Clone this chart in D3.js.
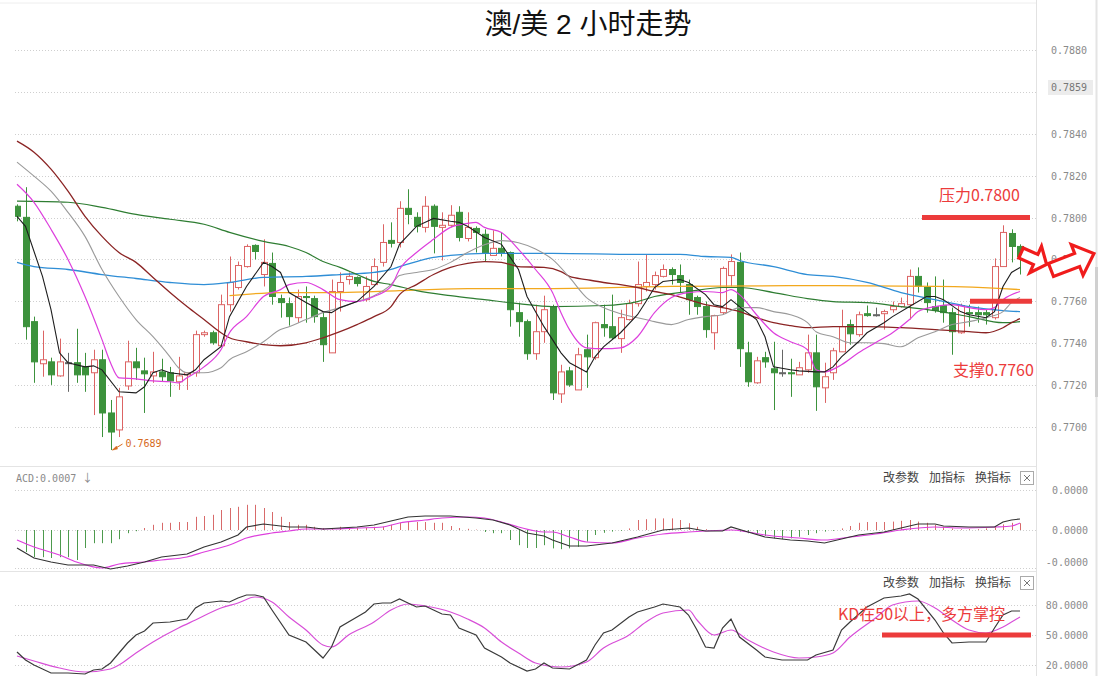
<!DOCTYPE html>
<html><head><meta charset="utf-8">
<script src="https://cdn.jsdelivr.net/npm/d3@7/dist/d3.min.js"></script>
<style>body{margin:0;background:#fff;}svg{display:block;}</style>
</head><body><svg id="c" width="1110" height="676"></svg>
<script>
const chartTitle = "澳/美 2 小时走势";
// candles (2-hour), index 0..118
const candleOpen = [0.78054,0.78001,0.77503,0.77302,0.77311,0.77244,0.77307,0.77307,0.77287,0.77259,
0.77321,0.77067,0.76986,0.77196,0.77311,0.77268,0.77244,0.77263,0.77259,0.77216,
0.77249,0.77259,0.77441,0.77450,0.77388,0.77584,0.77666,0.77766,0.77867,0.77728,
0.77781,0.77613,0.77589,0.77522,0.77623,0.77613,0.77522,0.77354,0.77647,0.77704,
0.77714,0.77608,0.77680,0.77786,0.77891,0.77881,0.78044,0.78001,0.77953,0.78054,
0.77953,0.77963,0.78025,0.77900,0.77948,0.77920,0.77819,0.77853,0.77833,0.77546,
0.77503,0.77350,0.77455,0.77575,0.77158,0.77268,0.77177,0.77369,0.77331,0.77489,
0.77479,0.77422,0.77513,0.77589,0.77671,0.77680,0.77719,0.77752,0.77723,0.77680,
0.77618,0.77575,0.77450,0.77546,0.77723,0.77786,0.77354,0.77211,0.77331,0.77278,
0.77259,0.77259,0.77249,0.77273,0.77354,0.77187,0.77259,0.77359,0.77489,0.77441,
0.77541,0.77536,0.77541,0.77560,0.77575,0.77584,0.77719,0.77666,0.77575,0.77580,
0.77546,0.77450,0.77546,0.77546,0.77546,0.77522,0.77766,0.77924,0.77862];
const candleHigh = [0.78063,0.78145,0.77527,0.77460,0.77331,0.77422,0.77354,0.77469,0.77354,0.77369,
0.77369,0.77129,0.77187,0.77412,0.77378,0.77331,0.77359,0.77326,0.77287,0.77335,
0.77259,0.77460,0.77460,0.77460,0.77632,0.77814,0.77790,0.77872,0.77872,0.77896,
0.77833,0.77632,0.77618,0.77656,0.77671,0.77627,0.77551,0.77704,0.77738,0.77738,
0.77719,0.77719,0.77805,0.77968,0.77977,0.78078,0.78135,0.78025,0.78102,0.78063,
0.78025,0.78059,0.78054,0.78025,0.77958,0.77944,0.77939,0.77929,0.77838,0.77594,
0.77513,0.77584,0.77627,0.77584,0.77297,0.77287,0.77378,0.77441,0.77503,0.77584,
0.77632,0.77560,0.77608,0.77790,0.77824,0.77742,0.77776,0.77762,0.77776,0.77704,
0.77627,0.77599,0.77536,0.77766,0.77824,0.77833,0.77407,0.77335,0.77359,0.77407,
0.77369,0.77326,0.77311,0.77441,0.77441,0.77307,0.77378,0.77560,0.77513,0.77551,
0.77580,0.77570,0.77560,0.77599,0.77618,0.77752,0.77762,0.77690,0.77719,0.77704,
0.77570,0.77589,0.77584,0.77575,0.77560,0.77805,0.77963,0.77944,0.77872];
const candleLow = [0.77982,0.77417,0.77211,0.77240,0.77201,0.77240,0.77168,0.77211,0.77168,0.77057,
0.76952,0.76890,0.76952,0.77177,0.77225,0.77067,0.77211,0.77216,0.77144,0.77177,
0.77177,0.77240,0.77431,0.77393,0.77383,0.77551,0.77656,0.77761,0.77800,0.77671,
0.77584,0.77522,0.77484,0.77498,0.77498,0.77498,0.77311,0.77354,0.77551,0.77680,
0.77671,0.77599,0.77680,0.77766,0.77857,0.77857,0.77968,0.77929,0.77929,0.77829,
0.77795,0.77953,0.77886,0.77886,0.77833,0.77790,0.77819,0.77814,0.77479,0.77431,
0.77321,0.77321,0.77402,0.77129,0.77115,0.77192,0.77177,0.77187,0.77321,0.77431,
0.77417,0.77354,0.77508,0.77575,0.77647,0.77656,0.77714,0.77680,0.77642,0.77536,
0.77536,0.77426,0.77369,0.77536,0.77671,0.77287,0.77192,0.77206,0.77283,0.77081,
0.77240,0.77144,0.77249,0.77259,0.77077,0.77115,0.77225,0.77359,0.77393,0.77431,
0.77527,0.77527,0.77465,0.77546,0.77570,0.77513,0.77642,0.77546,0.77546,0.77498,
0.77345,0.77445,0.77479,0.77498,0.77489,0.77513,0.77766,0.77786,0.77728];
const candleClose = [0.78006,0.77479,0.77311,0.77321,0.77249,0.77311,0.77307,0.77249,0.77249,0.77321,
0.77067,0.76976,0.77144,0.77311,0.77283,0.77254,0.77263,0.77240,0.77220,0.77244,
0.77259,0.77441,0.77450,0.77402,0.77584,0.77690,0.77771,0.77862,0.77838,0.77786,
0.77623,0.77594,0.77527,0.77623,0.77618,0.77527,0.77393,0.77647,0.77690,0.77719,
0.77685,0.77671,0.77766,0.77881,0.77877,0.78044,0.78015,0.77958,0.78054,0.77958,
0.77963,0.78011,0.77905,0.77953,0.77929,0.77833,0.77853,0.77833,0.77560,0.77503,
0.77350,0.77455,0.77560,0.77163,0.77263,0.77201,0.77345,0.77335,0.77498,0.77474,
0.77426,0.77522,0.77589,0.77680,0.77690,0.77723,0.77752,0.77728,0.77690,0.77608,
0.77575,0.77465,0.77532,0.77757,0.77790,0.77374,0.77216,0.77316,0.77311,0.77259,
0.77259,0.77254,0.77283,0.77354,0.77192,0.77240,0.77364,0.77479,0.77445,0.77536,
0.77532,0.77536,0.77551,0.77575,0.77589,0.77719,0.77671,0.77594,0.77556,0.77546,
0.77455,0.77580,0.77541,0.77536,0.77536,0.77766,0.77929,0.77862,0.77814];

// moving averages: [candle index, price]
const ma5 = [[0,.78006],[1,.77958],[3,.77719],[4,.77560],[5,.77354],[6,.77307],[8,.77287],[9,.77292],[10,.77273],[12,.77168],[14,.77163],[15,.77192],[16,.77259],[17,.77273],[18,.77259],[20,.77249],[21,.77273],[22,.77321],[24,.77383],[25,.77527],[27,.77671],[29,.77786],[30,.77766],[31,.77738],[32,.77642],[34,.77594],[36,.77551],[37,.77546],[38,.77570],[40,.77599],[42,.77671],[44,.77766],[45,.77872],[47,.77958],[49,.77996],[51,.77982],[52,.77977],[53,.77958],[55,.77905],[57,.77872],[59,.77752],[60,.77623],[62,.77479],[63,.77417],[64,.77354],[65,.77307],[67,.77263],[68,.77335],[69,.77383],[71,.77450],[73,.77536],[74,.77599],[75,.77666],[76,.77695],[78,.77704],[79,.77690],[81,.77632],[82,.77584],[83,.77575],[84,.77608],[85,.77575],[87,.77513],[88,.77431],[89,.77287],[91,.77273],[92,.77268],[94,.77263],[95,.77263],[96,.77287],[97,.77335],[99,.77407],[100,.77450],[102,.77498],[103,.77527],[105,.77575],[107,.77623],[108,.77623],[109,.77608],[111,.77551],[112,.77536],[114,.77522],[115,.77551],[116,.77671],[117,.77738],[118,.77762]];
const ma10 = [[0,.78159],[2,.78073],[4,.77944],[6,.77800],[8,.77623],[10,.77417],[11,.77307],[12,.77235],[14,.77230],[16,.77220],[18,.77216],[19,.77211],[20,.77235],[22,.77287],[24,.77369],[25,.77450],[27,.77527],[29,.77623],[31,.77656],[32,.77680],[34,.77690],[36,.77656],[38,.77608],[40,.77599],[42,.77623],[44,.77671],[45,.77752],[47,.77833],[49,.77896],[51,.77953],[53,.77972],[54,.77977],[55,.77953],[57,.77929],[59,.77848],[61,.77752],[63,.77642],[64,.77546],[65,.77465],[67,.77378],[69,.77374],[71,.77378],[73,.77431],[75,.77546],[77,.77618],[79,.77642],[81,.77647],[83,.77642],[84,.77656],[85,.77632],[87,.77536],[89,.77450],[91,.77407],[93,.77369],[94,.77273],[95,.77263],[97,.77297],[99,.77354],[101,.77402],[103,.77450],[105,.77513],[106,.77551],[108,.77575],[110,.77584],[112,.77570],[114,.77560],[115,.77570],[116,.77608],[118,.77647]];
const ma20 = [[0,.78265],[2,.78198],[4,.78126],[6,.78025],[8,.77910],[10,.77752],[12,.77623],[14,.77513],[16,.77431],[18,.77335],[19,.77283],[20,.77259],[22,.77259],[24,.77283],[25,.77321],[27,.77359],[29,.77407],[31,.77465],[32,.77479],[34,.77513],[36,.77546],[38,.77570],[40,.77599],[42,.77627],[44,.77680],[45,.77723],[47,.77738],[49,.77752],[51,.77786],[53,.77833],[55,.77870],[57,.77890],[59,.77880],[61,.77850],[63,.77800],[65,.77714],[67,.77618],[69,.77570],[71,.77541],[73,.77522],[75,.77503],[77,.77489],[79,.77513],[81,.77527],[83,.77536],[85,.77570],[87,.77570],[89,.77551],[91,.77536],[93,.77498],[94,.77455],[96,.77431],[98,.77402],[100,.77402],[102,.77398],[104,.77383],[106,.77426],[108,.77455],[110,.77489],[112,.77503],[114,.77522],[116,.77551],[117,.77594],[118,.77618]];
const ma30 = [[0,.78365],[2,.78312],[4,.78231],[6,.78126],[8,.78006],[10,.77910],[12,.77833],[14,.77786],[16,.77714],[18,.77642],[20,.77575],[22,.77513],[24,.77450],[25,.77426],[27,.77407],[29,.77393],[31,.77388],[34,.77402],[36,.77426],[38,.77455],[40,.77489],[42,.77527],[44,.77575],[45,.77632],[47,.77680],[49,.77728],[51,.77762],[53,.77781],[55,.77790],[57,.77786],[59,.77766],[62,.77762],[64,.77742],[65,.77719],[67,.77704],[69,.77690],[71,.77680],[73,.77666],[75,.77647],[77,.77632],[79,.77608],[81,.77584],[83,.77570],[85,.77551],[87,.77522],[89,.77498],[91,.77484],[93,.77474],[96,.77479],[100,.77479],[104,.77474],[108,.77465],[112,.77455],[114,.77450],[116,.77474],[117,.77498],[118,.77517]];
const ma60 = [[0,.78078],[6,.78073],[10,.78049],[14,.78015],[18,.77992],[22,.77968],[25,.77929],[29,.77886],[32,.77862],[34,.77833],[36,.77790],[38,.77762],[40,.77728],[42,.77695],[44,.77680],[47,.77651],[51,.77627],[55,.77608],[59,.77589],[63,.77575],[69,.77580],[73,.77599],[75,.77623],[79,.77647],[83,.77666],[85,.77666],[89,.77642],[93,.77613],[96,.77599],[100,.77594],[104,.77575],[108,.77556],[112,.77527],[116,.77498],[118,.77503]];
const ma120 = [[0,.77786],[2,.77766],[6,.77752],[10,.77728],[14,.77709],[18,.77690],[22,.77680],[25,.77690],[29,.77714],[34,.77719],[38,.77728],[42,.77738],[44,.77752],[45,.77766],[47,.77790],[49,.77810],[51,.77819],[55,.77829],[63,.77829],[73,.77824],[78,.77824],[81,.77814],[84,.77810],[85,.77795],[89,.77766],[93,.77728],[96,.77719],[100,.77690],[104,.77642],[108,.77608],[112,.77575],[116,.77556],[118,.77551]];
const ma250 = [[25,.77627],[31,.77642],[38,.77642],[45,.77651],[53,.77661],[63,.77661],[77,.77671],[94,.77675],[108,.77671],[116,.77661],[118,.77656]];

// MACD
const macdHist = [null,-0.00055,-0.00068,-0.00068,-0.00070,-0.00068,-0.00068,-0.00075,-0.00045,-0.00033,
-0.00033,-0.00033,-0.00023,-0.00008,-0.00003,0.00005,0.00013,0.00018,0.00018,0.00020,
0.00020,0.00033,0.00035,0.00038,0.00050,0.00055,0.00058,0.00063,0.00063,0.00055,
0.00045,0.00033,0.00020,0.00013,0.00013,0.00008,0.00005,0.00005,0.00008,0.00005,
0.00005,0.00005,0.00008,0.00008,0.00013,0.00018,0.00020,0.00020,0.00020,0.00018,
0.00018,0.00010,0.00005,0.00003,0.00001,-0.00005,-0.00008,-0.00008,-0.00025,-0.00038,
-0.00045,-0.00045,-0.00038,-0.00046,-0.00048,-0.00046,-0.00042,-0.00029,-0.000125,-0.00007,
-0.00004,-0.00002,0.00004,0.00025,0.00027,0.00029,0.00029,0.00029,0.00025,0.00017,
0.00008,0.00002,-0.00002,-0.00001,0.00001,-0.00004,-0.00008,-0.0001,-0.00015,-0.00021,
-0.00023,-0.00021,-0.00017,-0.000125,-0.00008,-0.00004,-0.00002,0.00004,0.0001,0.00018,
0.0002,0.0002,0.0002,0.00021,0.00023,0.00025,0.00021,0.00018,0.000125,0.00008,
0.00004,0.00002,0.00002,0.00002,0.00004,0.00008,0.00014,0.00018,0.00017];
const macdDif = [[0,-0.00045],[2,-0.0007],[4,-0.0008],[6,-0.000875],[9,-0.000875],[11,-0.000975],[13,-0.0009],[15,-0.0008],[17,-0.000675],[20,-0.0006],[22,-0.000425],[24,-0.0003],[26,-0.000125],[27,0.000075],[29,0.00015],[30,0.000125],[32,0.000075],[34,0.000075],[36,0.000025],[38,0.00005],[40,0.000075],[42,0.000125],[44,0.000225],[46,0.000325],[48,0.00035],[51,0.00035],[54,0.0003],[56,0.00025],[58,0.000125],[60,-0.000075],[62,-0.00015],[63,-0.00025],[65,-0.0004],[67,-0.0004],[70,-0.000325],[73,-0.000175],[76,0],[79,0.00005],[81,-0.000025],[83,-0.000025],[84,0.000075],[86,-0.00005],[88,-0.000175],[91,-0.00025],[93,-0.000275],[95,-0.000325],[97,-0.000225],[99,-0.000125],[102,-0.00005],[104,0.00005],[106,0.00015],[108,0.00015],[109,0.0001],[112,0.000075],[115,0.000075],[116,0.0002],[117,0.00025],[118,0.000275]];
const macdDea = [[0,-0.00025],[2,-0.000425],[5,-0.000625],[7,-0.0008],[10,-0.00095],[12,-0.00085],[15,-0.0008],[17,-0.00075],[20,-0.000675],[22,-0.00055],[25,-0.000375],[27,-0.0002],[30,-0.000075],[32,-0.000025],[34,0.000025],[37,0.000025],[40,0.00005],[43,0.000075],[45,0.000175],[48,0.00025],[50,0.0003],[53,0.000325],[55,0.0003],[57,0.0002],[59,0.000075],[62,-0.00005],[63,-0.00005],[65,-0.000175],[67,-0.0003],[70,-0.000325],[73,-0.0002],[76,-0.0001],[79,-0.00005],[81,-0.000025],[84,0],[86,-0.00005],[88,-0.000125],[92,-0.0002],[95,-0.00025],[98,-0.000175],[101,-0.0001],[104,0],[108,0.000075],[111,0.00005],[115,0.000075],[117,0.0001],[118,0.000175]];

// KD
const kdK = [[0,33],[1,25],[2,20],[4,12],[6,12],[8,11],[9,15],[10,16],[11,22],[13,42],[14,50],[15,54],[16,62],[18,63],[20,66],[21,77],[22,82],[24,84],[25,83],[26,87],[27,90],[28,90],[29,88],[30,75],[32,50],[34,43],[35,35],[36,27],[37,38],[38,58],[40,68],[41,73],[42,81],[43,82],[44,82],[45,86],[46,82],[47,78],[48,79],[49,75],[50,71],[51,70],[52,57],[54,50],[55,37],[57,28],[58,22],[60,14],[61,16],[62,22],[63,17],[65,16],[67,25],[68,40],[69,52],[70,55],[72,68],[73,73],[75,78],[76,81],[78,78],[79,70],[80,55],[81,38],[82,37],[83,57],[84,66],[85,48],[87,35],[88,28],[90,25],[93,25],[94,30],[96,35],[97,55],[98,63],[100,78],[102,87],[104,89],[105,91],[106,86],[108,65],[109,52],[110,42],[112,43],[114,43],[115,57],[116,70],[117,74],[118,74]];
const kdD = [[0,29],[2,24],[5,17],[8,13],[11,16],[12,20],[14,32],[16,43],[19,57],[21,65],[24,77],[26,82],[28,88],[30,83],[32,68],[34,55],[36,40],[37,38],[39,50],[42,63],[44,75],[46,81],[48,79],[51,73],[53,66],[55,57],[57,43],[59,32],[61,22],[64,18],[67,23],[69,37],[72,50],[74,63],[76,72],[79,75],[80,65],[82,50],[84,55],[86,45],[89,33],[92,27],[94,28],[96,32],[98,48],[101,67],[103,80],[106,84],[108,77],[110,65],[112,55],[114,52],[116,58],[117,63],[118,68]];

const priceTicks = [0.7700,0.7720,0.7740,0.7760,0.7780,0.7800,0.7820,0.7840,0.7860,0.7880];
const lastPrice = 0.7859;
const lowPrice = 0.7689, lowIndex = 11;
const macdTicks = [0.001, 0, -0.00095];
const macdTickLabels = ["0.0000","0.0000","-0.0000"];
const kdTicks = [80, 50, 20];
const resistance = 0.7800, support = 0.7760, kdLevel = 50;
const resistanceText = "压力0.7800", supportText = "支撑0.7760", kdText = "KD在50以上，多方掌控";
const macdLabel = "ACD:0.0007";
const toolButtons = ["改参数","加指标","换指标"];

const svg = d3.select("#c");
const N = candleOpen.length;
const x = d3.scaleLinear().domain([0, N-1]).range([17, 1020]);
const y = d3.scaleLinear().domain([0.7700, 0.7880]).range([427, 50]);
const yM = d3.scaleLinear().domain([-0.001, 0.001]).range([570, 490]);
const yK = d3.scaleLinear().domain([20, 80]).range([665, 605]);

const PL = 15, PR = 1036;
const defs = svg.append("defs");
defs.append("clipPath").attr("id","cm").append("rect").attr("x",PL).attr("y",30).attr("width",PR-PL).attr("height",435);
defs.append("clipPath").attr("id","cd").append("rect").attr("x",PL).attr("y",486).attr("width",PR-PL).attr("height",84);
defs.append("clipPath").attr("id","ck").append("rect").attr("x",PL).attr("y",592).attr("width",PR-PL).attr("height",84);

const MONO = "'DejaVu Sans Mono', 'Liberation Mono', monospace";
const CJK = "'Noto Sans CJK SC', sans-serif";

// frames
svg.append("line").attr("x1",0).attr("x2",1036).attr("y1",3).attr("y2",3).attr("stroke","#eeeeee");
svg.append("line").attr("x1",1036.5).attr("x2",1036.5).attr("y1",0).attr("y2",676).attr("stroke","#e2e2e2");
svg.append("line").attr("x1",1096.5).attr("x2",1096.5).attr("y1",0).attr("y2",676).attr("stroke","#e4e4e4").attr("stroke-width",2);
svg.append("rect").attr("x",1095).attr("y",267).attr("width",3).attr("height",130).attr("fill","#d0d0d0");
[466.5, 571.5].forEach(v => svg.append("line").attr("x1",0).attr("x2",1036).attr("y1",v).attr("y2",v).attr("stroke","#e4e4e4"));

// title
svg.append("text").attr("x",588).attr("y",34).attr("text-anchor","middle")
  .attr("font-family","'Liberation Sans', 'Noto Sans CJK SC', sans-serif").attr("font-size",28)
  .attr("fill","#111").text(chartTitle);

// grid + axes
const grid = svg.append("g").attr("stroke","#cfcfcf").attr("stroke-dasharray","1,2");
priceTicks.forEach(t => grid.append("line").attr("x1",PL).attr("x2",PR).attr("y1",Math.round(y(t))+0.5).attr("y2",Math.round(y(t))+0.5));
macdTicks.forEach(t => grid.append("line").attr("x1",PL).attr("x2",PR).attr("y1",Math.round(yM(t))+0.5).attr("y2",Math.round(yM(t))+0.5));
kdTicks.forEach(t => grid.append("line").attr("x1",PL).attr("x2",PR).attr("y1",Math.round(yK(t))+0.5).attr("y2",Math.round(yK(t))+0.5));

const axG = svg.append("g").attr("font-family",MONO).attr("font-size",10).attr("fill","#8a8a8a");
// the 0.7860 tick label sits under the last-price box, so only the box label is drawn there
priceTicks.filter(t => Math.abs(t - lastPrice) > 0.0005)
  .forEach(t => axG.append("text").attr("x",1051).attr("y",y(t)+4).text(d3.format(".4f")(t)));
axG.append("rect").attr("x",1048).attr("y",y(lastPrice)-14).attr("width",45).attr("height",15).attr("fill","#ececec");
axG.append("text").attr("x",1051).attr("y",y(lastPrice)-3).attr("fill","#777").text(d3.format(".4f")(lastPrice));
macdTicks.forEach((t,k) => axG.append("text").attr("x",1088).attr("text-anchor","end").attr("y",Math.min(yM(t),562)+4).text(macdTickLabels[k]));
kdTicks.forEach(t => axG.append("text").attr("x",1088).attr("text-anchor","end").attr("y",yK(t)+4).text(d3.format(".4f")(t)));

// main panel
const gm = svg.append("g").attr("clip-path","url(#cm)");
const UP = "#dc6464", DN = "#3c923c", DJ = "#666";
const idx = d3.range(N);
const col = i => candleClose[i] > candleOpen[i] ? UP : (candleClose[i] < candleOpen[i] ? DN : DJ);

function maLine(data, color, w, curve) {
  gm.append("path").datum(data).attr("fill","none").attr("stroke",color).attr("stroke-width",w)
    .attr("d", d3.line().x(d=>x(d[0])).y(d=>y(d[1])).curve(curve||d3.curveMonotoneX));
}

gm.selectAll("line.w").data(idx).join("line").attr("class","w")
  .attr("x1",i=>Math.round(x(i))+0.5).attr("x2",i=>Math.round(x(i))+0.5)
  .attr("y1",i=>y(candleHigh[i])).attr("y2",i=>y(candleLow[i])).attr("stroke",col).attr("stroke-width",1);
gm.selectAll("rect.b").data(idx).join("rect").attr("class","b")
  .attr("x",i=>Math.round(x(i))-2.5).attr("width",6)
  .attr("y",i=>y(Math.max(candleOpen[i],candleClose[i])))
  .attr("height",i=>Math.max(1, Math.abs(y(candleOpen[i])-y(candleClose[i]))))
  .attr("fill",i=>candleClose[i] > candleOpen[i] ? "#fff" : col(i))
  .attr("stroke",col).attr("stroke-width",1);

maLine(ma250, "#f2a81d", 1.3);
maLine(ma120, "#2f8ed6", 1.3);
maLine(ma60, "#2e7d32", 1.2);
maLine(ma30, "#8b2424", 1.3);
maLine(ma20, "#9a9a9a", 1.1);
maLine(ma10, "#dd3fdd", 1.2);
maLine(ma5, "#1e1e1e", 1.1, d3.curveLinear);

// lowest price marker
const lowG = svg.append("g").attr("fill","#d66a1e").attr("stroke","#d66a1e");
lowG.append("line").attr("x1",x(lowIndex)+12).attr("y1",y(lowPrice)-6).attr("x2",x(lowIndex)+2).attr("y2",y(lowPrice)).attr("stroke-width",1);
lowG.append("path").attr("d",`M${x(lowIndex)+2},${y(lowPrice)} l4,-4 l1,3 z`).attr("stroke-width",0.5);
lowG.append("text").attr("x",x(lowIndex)+15).attr("y",y(lowPrice)-3).attr("stroke","none")
  .attr("font-family",MONO).attr("font-size",10).text(d3.format(".4f")(lowPrice));

// annotations main
const RED = "#ec3b3b";
svg.append("line").attr("x1",922).attr("x2",1030).attr("y1",y(resistance)).attr("y2",y(resistance)).attr("stroke",RED).attr("stroke-width",5);
svg.append("line").attr("x1",970).attr("x2",1032).attr("y1",y(support)).attr("y2",y(support)).attr("stroke",RED).attr("stroke-width",5);
svg.append("text").attr("x",939).attr("y",201).attr("font-family",CJK).attr("font-size",16).attr("fill",RED).text(resistanceText);
svg.append("text").attr("x",953).attr("y",376).attr("font-family",CJK).attr("font-size",16).attr("fill",RED).text(supportText);

function arrow(tx, ty, ang, L, sw, hw, hl) {
  const p = [[0,-sw/2],[L-hl,-sw/2],[L-hl,-hw/2],[L,0],[L-hl,hw/2],[L-hl,sw/2],[0,sw/2]];
  svg.append("path").attr("d","M"+p.map(q=>q.join(",")).join("L")+"Z")
    .attr("transform",`translate(${tx},${ty}) rotate(${ang})`)
    .attr("fill","#fff").attr("stroke","#f01c1c").attr("stroke-width",3.2).attr("stroke-linejoin","miter");
}
arrow(1021, 253, 24, 28, 11, 29, 12);
arrow(1051, 270, -21, 46, 14, 33, 18);

// MACD panel
svg.append("text").attr("x",16).attr("y",482).attr("font-family",MONO).attr("font-size",10).attr("fill","#8a8a8a").text(macdLabel);
svg.append("text").attr("x",82).attr("y",482).attr("font-family",CJK).attr("font-size",11).attr("fill","#8a8a8a").text("↓");
const gd = svg.append("g").attr("clip-path","url(#cd)");
gd.selectAll("line.h").data(idx.filter(i=>macdHist[i]!==null)).join("line").attr("class","h")
  .attr("x1",i=>Math.round(x(i))+0.5).attr("x2",i=>Math.round(x(i))+0.5)
  .attr("y1",yM(0)).attr("y2",i=>yM(macdHist[i]))
  .attr("stroke",i=>macdHist[i]>=0 ? "#d86a6a" : "#4d9a4d").attr("stroke-width",1);
gd.append("path").datum(macdDea).attr("fill","none").attr("stroke","#dd3fdd").attr("stroke-width",1.2)
  .attr("d",d3.line().x(d=>x(d[0])).y(d=>yM(d[1])).curve(d3.curveMonotoneX));
gd.append("path").datum(macdDif).attr("fill","none").attr("stroke","#333").attr("stroke-width",1.2)
  .attr("d",d3.line().x(d=>x(d[0])).y(d=>yM(d[1])));

// KD panel
const gk = svg.append("g").attr("clip-path","url(#ck)");
gk.append("path").datum(kdD).attr("fill","none").attr("stroke","#d84fd8").attr("stroke-width",1.2)
  .attr("d",d3.line().x(d=>x(d[0])).y(d=>yK(d[1])).curve(d3.curveMonotoneX));
gk.append("path").datum(kdK).attr("fill","none").attr("stroke","#3a3a3a").attr("stroke-width",1.2)
  .attr("d",d3.line().x(d=>x(d[0])).y(d=>yK(d[1])));
svg.append("line").attr("x1",882).attr("x2",1031).attr("y1",yK(kdLevel)).attr("y2",yK(kdLevel)).attr("stroke",RED).attr("stroke-width",5);
svg.append("text").attr("x",838).attr("y",620).attr("font-family",CJK).attr("font-size",16).attr("fill",RED).text(kdText);

// tool buttons
[478, 583].forEach(by => {
  const g = svg.append("g").attr("font-family",CJK).attr("font-size",12).attr("fill","#444");
  toolButtons.forEach((t,k) => g.append("text").attr("x",883 + k*46).attr("y",by+4).text(t));
  g.append("rect").attr("x",1020.5).attr("y",by-6.5).attr("width",13).attr("height",13).attr("fill","#fff").attr("stroke","#aaa");
  g.append("path").attr("d",`M${1024},${by-3}L${1030},${by+3}M${1030},${by-3}L${1024},${by+3}`).attr("stroke","#777").attr("stroke-width",1);
});
</script></body></html>
